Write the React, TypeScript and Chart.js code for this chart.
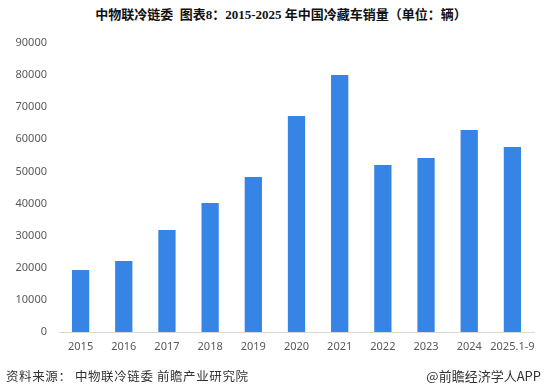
import React, { useEffect, useRef } from "react";
import { Chart, registerables } from "chart.js";

Chart.register(...registerables);

const categories = ["2015", "2016", "2017", "2018", "2019", "2020", "2021", "2022", "2023", "2024", "2025.1-9"];
const sales = [19300, 22100, 31800, 40200, 48300, 67300, 80000, 52000, 54200, 62900, 57600];
const yTicks = [0, 10000, 20000, 30000, 40000, 50000, 60000, 70000, 80000, 90000];
const titleText = "中物联冷链委  图表8：2015-2025 年中国冷藏车销量（单位：辆）";
const sourceText = "资料来源： 中物联冷链委 前瞻产业研究院";
const brandText = "@前瞻经济学人APP";

export default function App() {
  const ref = useRef<HTMLCanvasElement | null>(null);
  useEffect(() => {
    document.body.style.margin = "0";
    if (!ref.current) return;
    const chart = new Chart(ref.current, {
      type: "bar",
      data: {
        labels: categories,
        datasets: [
          {
            data: sales,
            backgroundColor: "#3684e6",
            barPercentage: 0.4,
            categoryPercentage: 1,
          },
        ],
      },
      options: {
        animation: false,
        responsive: false,
        maintainAspectRatio: false,
        layout: { padding: { top: 43, right: 12, bottom: 27, left: 0 } },
        plugins: { legend: { display: false }, title: { display: false }, tooltip: { enabled: false } },
        scales: {
          x: {
            grid: { display: false, drawTicks: false },
            border: { display: true, color: "#d9d9d9", width: 1 },
            ticks: { color: "#595959", font: { family: "'Noto Sans', 'Noto Sans CJK SC', sans-serif", size: 11 }, padding: 8, maxRotation: 0, autoSkip: false },
            afterFit: (s: any) => { s.height = 28; },
          },
          y: {
            min: 0,
            max: 90000,
            afterBuildTicks: (s: any) => { s.ticks = yTicks.map((v) => ({ value: v })); },
            grid: { display: false, drawTicks: false },
            border: { display: false },
            ticks: {
              color: "#595959",
              font: { family: "'Noto Sans', 'Noto Sans CJK SC', sans-serif", size: 11 },
              padding: 12,
              callback: (v: any) => String(v),
            },
            afterFit: (s: any) => { s.width = 59; },
          },
        },
      },
    });
    return () => chart.destroy();
  }, []);
  return (
    <div style={{ position: "fixed", left: 0, top: 0, width: 546, height: 387, background: "#fff" }}>
      <div style={{ position: "absolute", left: 0, top: 4, width: 562, textAlign: "center", fontFamily: "'Liberation Serif', 'Noto Sans CJK SC', serif", fontWeight: "bold", fontSize: 13, color: "#111", whiteSpace: "pre" }}>
        {titleText}
      </div>
      <canvas ref={ref} width={546} height={387} style={{ position: "absolute", left: 0, top: 0 }} />
      <div style={{ position: "absolute", left: 6, top: 366, fontFamily: "'Noto Sans CJK SC', sans-serif", fontSize: 12.5, letterSpacing: 0.6, color: "#333", whiteSpace: "pre" }}>
        {sourceText}
      </div>
      <div style={{ position: "absolute", right: 5, top: 366, fontFamily: "'Noto Sans CJK SC', sans-serif", fontSize: 13, color: "#333", whiteSpace: "pre" }}>
        {brandText}
      </div>
    </div>
  );
}
